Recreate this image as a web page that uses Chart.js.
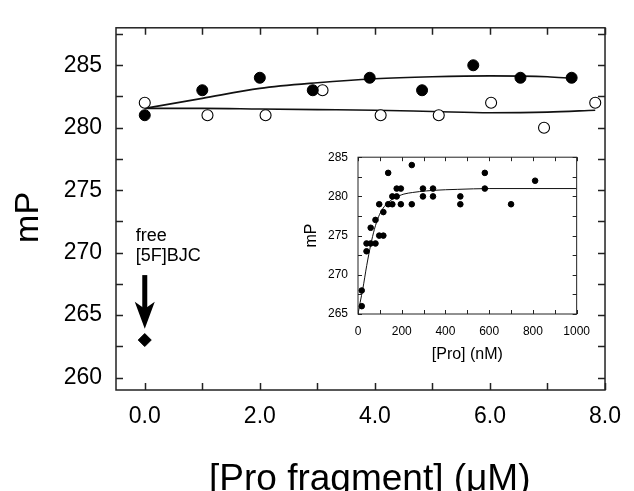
<!DOCTYPE html>
<html>
<head>
<meta charset="utf-8">
<script src="https://cdn.jsdelivr.net/npm/chart.js@4.4.1/dist/chart.umd.min.js"></script>
<style>
html, body { margin: 0; padding: 0; background: #fff; }
#wrap { position: relative; width: 634px; height: 491px; }
#main { position: absolute; left: 0; top: 0; }
#inset { position: absolute; left: 290px; top: 140px; }
</style>
</head>
<body>
<div id="wrap">
  <canvas id="main" width="634" height="491"></canvas>
  <canvas id="inset" width="310" height="230"></canvas>
</div>
<script>
// main panel: mP vs [Pro fragment] (uM)
var boundX = [0, 1.0, 2.0, 2.92, 3.91, 4.82, 5.71, 6.53, 7.42];
var boundY = [281, 283, 284, 283, 284, 283, 285, 284, 284];
var unboundX = [0, 1.09, 2.1, 3.09, 4.1, 5.11, 6.02, 6.94, 7.83];
var unboundY = [282, 281, 281, 283, 281, 281, 282, 280, 282];
var fitBoundX = [0, 1, 2, 3, 4, 5, 6, 7, 7.42];
var fitBoundY = [281.55, 282.35, 283.15, 283.6, 283.92, 284.08, 284.15, 284.08, 283.95];
var fitUnboundX = [0, 1, 2, 3, 4, 5, 6, 7, 7.83];
var fitUnboundY = [281.55, 281.55, 281.5, 281.45, 281.4, 281.3, 281.2, 281.25, 281.4];
var freeX = [0];
var freeY = [263];
var arrowFrom = 268.2, arrowTo = 263.9;
var xTickValues = [0, 2, 4, 6, 8];
var yTickValues = [260, 265, 270, 275, 280, 285];

// inset: mP vs [Pro] (nM)
var insetX = [17, 17, 39, 39, 58, 58, 80, 80, 97, 116, 97, 116, 138, 138, 157, 157, 177, 177, 196, 196, 246, 246, 297, 297, 343, 343, 468, 468, 580, 580, 700, 810];
var insetY = [266, 268, 273, 274, 274, 276, 274, 277, 275, 275, 279, 278, 283, 279, 279, 280, 280, 281, 281, 279, 284, 279, 281, 280, 281, 280, 280, 279, 283, 281, 279, 282];
var insetFitX = [0, 10, 22, 40, 58, 75, 94, 110, 130, 150, 167, 190, 210, 250, 312, 400, 456, 600, 800, 1000];
var insetFitY = [265, 266.5, 268.2, 271.2, 273.8, 275.8, 277.4, 278.3, 279.0, 279.5, 279.8, 280.1, 280.3, 280.5, 280.7, 280.85, 280.9, 281, 281, 281];
var insetXTicks = [0, 200, 400, 600, 800, 1000];
var insetYTicks = [265, 270, 275, 280, 285];

var fam = "'Liberation Sans', Arial, Helvetica, sans-serif";

function toPoints(xs, ys) {
    return xs.map(function (x, i) { return { x: x, y: ys[i] }; });
}

function range(a, b, step) {
    var out = [];
    for (var v = a; v <= b + 1e-9; v += step) out.push(v);
    return out;
}

// cadre + graduations vers l'intérieur sur les 4 côtés
function frameTicks(opts) {
    return {
        id: 'frameTicks',
        afterDatasetsDraw: function (chart) {
            var ctx = chart.ctx, a = chart.chartArea;
            var xs = chart.scales.x, ys = chart.scales.y;
            ctx.save();
            ctx.strokeStyle = '#222';
            ctx.lineWidth = opts.lw;
            ctx.strokeRect(a.left, a.top, a.right - a.left, a.bottom - a.top);
            ctx.beginPath();
            opts.xMarks.forEach(function (v) {
                var p = Math.round(xs.getPixelForValue(v)) + 0.5;
                ctx.moveTo(p, a.bottom); ctx.lineTo(p, a.bottom - opts.len);
                ctx.moveTo(p, a.top); ctx.lineTo(p, a.top + opts.len);
            });
            opts.yMarks.forEach(function (v) {
                var p = Math.round(ys.getPixelForValue(v)) + 0.5;
                ctx.moveTo(a.left, p); ctx.lineTo(a.left + opts.len, p);
                ctx.moveTo(a.right, p); ctx.lineTo(a.right - opts.len, p);
            });
            ctx.stroke();
            ctx.restore();
        }
    };
}

// flèche + texte "free [5F]BJC"
var freeNote = {
    id: 'freeNote',
    afterDraw: function (chart) {
        var ctx = chart.ctx;
        var xs = chart.scales.x, ys = chart.scales.y;
        var px = xs.getPixelForValue(freeX[0]);
        var top = ys.getPixelForValue(arrowFrom);
        var tip = ys.getPixelForValue(arrowTo);
        ctx.save();
        ctx.fillStyle = '#000';
        ctx.fillRect(px - 2.5, top, 5, tip - top - 18);
        ctx.beginPath();
        ctx.moveTo(px, tip);
        ctx.lineTo(px - 10, tip - 27);
        ctx.lineTo(px, tip - 20);
        ctx.lineTo(px + 10, tip - 27);
        ctx.closePath();
        ctx.fill();
        ctx.font = '18px ' + fam;
        ctx.textAlign = 'left';
        ctx.textBaseline = 'alphabetic';
        ctx.fillText('free', px - 9, ys.getPixelForValue(270.9));
        ctx.fillText('[5F]BJC', px - 9, ys.getPixelForValue(269.3));
        ctx.restore();
    }
};

var mainChart = new Chart(document.getElementById('main'), {
    type: 'scatter',
    data: {
        datasets: [{
            label: 'bound',
            data: toPoints(boundX, boundY),
            pointRadius: 5.5,
            pointBackgroundColor: '#000',
            pointBorderColor: '#000',
            pointBorderWidth: 1
        }, {
            label: 'unbound',
            data: toPoints(unboundX, unboundY),
            pointRadius: 5.5,
            pointBackgroundColor: '#fff',
            pointBorderColor: '#000',
            pointBorderWidth: 1.1
        }, {
            label: 'free probe',
            data: toPoints(freeX, freeY),
            pointStyle: 'rectRot',
            pointRadius: 6.5,
            pointBackgroundColor: '#000',
            pointBorderColor: '#000'
        }, {
            label: 'fit bound',
            data: toPoints(fitBoundX, fitBoundY),
            showLine: true,
            pointRadius: 0,
            borderColor: '#111',
            borderWidth: 1.6,
            cubicInterpolationMode: 'monotone'
        }, {
            label: 'fit unbound',
            data: toPoints(fitUnboundX, fitUnboundY),
            showLine: true,
            pointRadius: 0,
            borderColor: '#111',
            borderWidth: 1.6,
            cubicInterpolationMode: 'monotone'
        }]
    },
    options: {
        responsive: false,
        animation: false,
        events: [],
        layout: { padding: { top: 15, right: 19, left: 0, bottom: 0 } },
        plugins: { legend: { display: false }, tooltip: { enabled: false } },
        scales: {
            x: {
                type: 'linear', min: -0.5, max: 8,
                grid: { display: false, drawTicks: false },
                border: { display: false },
                afterBuildTicks: function (s) { s.ticks = xTickValues.map(function (v) { return { value: v }; }); },
                afterFit: function (s) { s.height = 101; },
                ticks: {
                    font: { family: fam, size: 23 }, color: '#000', padding: 13, maxRotation: 0,
                    callback: function (v) { return Number(v).toFixed(1); }
                },
                title: {
                    display: true, text: '\u2002[Pro fragment] (\u03bcM)', color: '#000',
                    font: { family: fam, size: 37, lineHeight: 1 }, padding: { top: 0, bottom: -7 }
                }
            },
            y: {
                type: 'linear', min: 259, max: 288,
                grid: { display: false, drawTicks: false },
                border: { display: false },
                afterBuildTicks: function (s) { s.ticks = yTickValues.map(function (v) { return { value: v }; }); },
                afterFit: function (s) { s.width = 116; },
                ticks: { font: { family: fam, size: 23 }, color: '#000', padding: 14 },
                title: {
                    display: true, text: 'mP\u2002', color: '#000',
                    font: { family: fam, size: 34, lineHeight: 1 }, padding: { top: 12, bottom: 0 }
                }
            }
        }
    },
    plugins: [frameTicks({ lw: 1.5, len: 7, xMarks: range(0, 8, 1), yMarks: range(260, 287.5, 2.5) }), freeNote]
});

var insetChart = new Chart(document.getElementById('inset'), {
    type: 'scatter',
    data: {
        datasets: [{
            label: 'inset points',
            data: toPoints(insetX, insetY),
            pointRadius: 2.8,
            pointBackgroundColor: '#000',
            pointBorderColor: '#000'
        }, {
            label: 'inset fit',
            data: toPoints(insetFitX, insetFitY),
            showLine: true,
            pointRadius: 0,
            borderColor: '#111',
            borderWidth: 1,
            cubicInterpolationMode: 'monotone'
        }]
    },
    options: {
        responsive: false,
        animation: false,
        events: [],
        layout: { padding: { top: 8, right: 7, left: 0, bottom: 0 } },
        plugins: { legend: { display: false }, tooltip: { enabled: false } },
        scales: {
            x: {
                type: 'linear', min: 0, max: 1000,
                grid: { display: false, drawTicks: false },
                border: { display: false },
                afterBuildTicks: function (s) { s.ticks = insetXTicks.map(function (v) { return { value: v }; }); },
                afterFit: function (s) { s.height = 56; },
                ticks: {
                    font: { family: fam, size: 12 }, color: '#000', padding: 10, maxRotation: 0,
                    callback: function (v) { return String(v); }
                },
                title: {
                    display: true, text: '[Pro] (nM)', color: '#000',
                    font: { family: fam, size: 16, lineHeight: 1 }, padding: { top: 0, bottom: 7 }
                }
            },
            y: {
                type: 'linear', min: 265, max: 285,
                grid: { display: false, drawTicks: false },
                border: { display: false },
                afterBuildTicks: function (s) { s.ticks = insetYTicks.map(function (v) { return { value: v }; }); },
                afterFit: function (s) { s.width = 68; },
                ticks: { font: { family: fam, size: 12 }, color: '#000', padding: 10 },
                title: {
                    display: true, text: 'mP', color: '#000',
                    font: { family: fam, size: 16, lineHeight: 1 }, padding: { top: 14, bottom: 0 }
                }
            }
        }
    },
    plugins: [frameTicks({ lw: 1, len: 4, xMarks: range(0, 1000, 100), yMarks: range(265, 285, 2.5) })]
});
</script>
</body>
</html>
